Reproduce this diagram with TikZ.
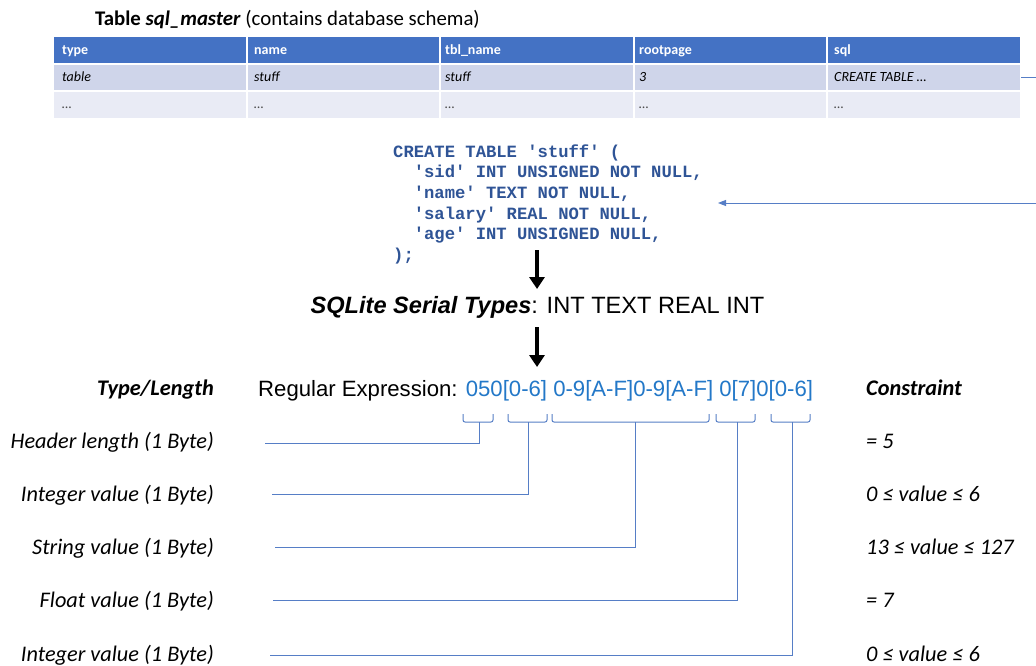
\documentclass[tikz,border=0pt]{standalone}
\usepackage{fontspec}
\setmainfont{Carlito}
\setmonofont{Liberation Mono}
\newfontfamily\helv{Liberation Sans}
\usetikzlibrary{arrows.meta}

\definecolor{hdrblue}{RGB}{68,114,196}
\definecolor{rowa}{RGB}{207,213,234}
\definecolor{rowb}{RGB}{233,235,245}
\definecolor{codeblue}{RGB}{47,84,150}
\definecolor{rxblue}{RGB}{35,120,200}
\definecolor{linkblue}{RGB}{86,126,198}

\begin{document}
\begin{tikzpicture}[x=1pt,y=-1pt,
  cellhd/.style={anchor=base west, inner sep=0pt, text=white, font=\fontsize{14}{16}\selectfont\bfseries},
  cellrw/.style={anchor=base west, inner sep=0pt, font=\fontsize{14}{16}\selectfont\itshape},
  link/.style={draw=linkblue, line width=1pt},
  flow/.style={line width=3.2pt, -{Triangle[length=12pt,width=15pt]}},
  lab/.style={anchor=base east, inner sep=0pt, font=\fontsize{22.3}{26}\selectfont\itshape},
  labhd/.style={anchor=base east, inner sep=0pt, font=\fontsize{22.3}{26}\selectfont\bfseries\itshape},
  cons/.style={anchor=base west, inner sep=0pt, font=\fontsize{22.3}{26}\selectfont\itshape},
  conshd/.style={anchor=base west, inner sep=0pt, font=\fontsize{22.3}{26}\selectfont\bfseries\itshape},
  codeline/.style={anchor=base west, inner sep=0pt, text=codeblue, font=\fontsize{17.2}{20}\selectfont\ttfamily\bfseries},
  brk/.style={link, rounded corners=2pt},
]
\useasboundingbox[fill=white] (0,0) rectangle (1036,666);

% ---- title of the table
\node[anchor=base west, inner sep=0pt, font=\fontsize{20.8}{24}\selectfont] (title) at (95,26)
  {\textbf{Table \textit{sql\_master}} (contains database schema)};

% ---- table body (five equal columns)
\foreach \c in {0,...,4} {
  \pgfmathsetmacro\xa{54+193.2*\c}
  \pgfmathsetmacro\xb{\xa+193.2}
  \fill[hdrblue] (\xa,37) rectangle (\xb,64);
  \fill[rowa] (\xa,64) rectangle (\xb,91);
  \fill[rowb] (\xa,91) rectangle (\xb,118);
}
\foreach \c in {1,...,4} {
  \draw[white, line width=2pt] ({54+193.2*\c},37) -- ({54+193.2*\c},118);
}
\draw[white, line width=2pt] (54,64) -- (1020,64) (54,91) -- (1020,91);

\node[cellhd] (h1) at (62,55) {type};
\node[cellhd] (h2) at (254,55) {name};
\node[cellhd] (h3) at (445,55) {tbl\_name};
\node[cellhd] (h4) at (639,55) {rootpage};
\node[cellhd] (h5) at (834,55) {sql};

\node[cellrw] (a1) at (62,82) {table};
\node[cellrw] (a2) at (254,82) {stuff};
\node[cellrw] (a3) at (445,82) {stuff};
\node[cellrw] (a4) at (639,82) {3};
\node[cellrw] (a5) at (834,82) {CREATE TABLE \ldots};

\node[cellrw, text=black!70] (b1) at (62,109) {\ldots};
\node[cellrw, text=black!70] (b2) at (254,109) {\ldots};
\node[cellrw, text=black!70] (b3) at (445,109) {\ldots};
\node[cellrw, text=black!70] (b4) at (639,109) {\ldots};
\node[cellrw, text=black!70] (b5) at (834,109) {\ldots};

% ---- schema statement
\node[codeline] (code1) at (393,157.2) {CREATE TABLE 'stuff' (};
\node[codeline] (code2) at (393,177.8) {\hphantom{xx}'sid' INT UNSIGNED NOT NULL,};
\node[codeline] (code3) at (393,198.4) {\hphantom{xx}'name' TEXT NOT NULL,};
\node[codeline] (code4) at (393,219.0) {\hphantom{xx}'salary' REAL NOT NULL,};
\node[codeline] (code5) at (393,239.6) {\hphantom{xx}'age' INT UNSIGNED NULL,};
\node[codeline] (code6) at (393,260.2) {);};

% sql cell feeds the statement
\coordinate (tblout) at (1021,78);
\coordinate (bend) at (1036.5,78);
\coordinate (codein) at (718,203);
\draw[link, -{Triangle[length=8pt,width=6pt]}] (tblout) -- (bend) |- (codein);

% ---- serial types
\node[anchor=base, inner sep=0pt, font=\helv\fontsize{23.6}{28}\selectfont] (serial) at (537.5,313)
  {\textbf{\textit{SQLite Serial Types}}: INT TEXT REAL INT};

\coordinate (ar1a) at (537,250);
\coordinate (ar1b) at (537,289);
\draw[flow] (ar1a) -- (ar1b);
\coordinate (ar2a) at (537,327);
\coordinate (ar2b) at (537,367);
\draw[flow] (ar2a) -- (ar2b);

% ---- regular expression row
\node[anchor=base west, inner sep=0pt, font=\helv\fontsize{22.15}{26}\selectfont] (regex) at (258,396)
  {Regular Expression: \textcolor{rxblue}{050[0-6] 0-9[A-F]0-9[A-F] 0[7]0[0-6]}};
\node[labhd] (tl) at (214,395) {Type/Length};
\node[conshd] (ct) at (866,395) {Constraint};

% brackets under the expression parts
\draw[brk] (463,414) |- (493,422) -- (493,414);
\draw[brk] (508,414) |- (547,422) -- (547,414);
\draw[brk] (552,414) |- (709,422) -- (709,414);
\draw[brk] (716,414) |- (755,422) -- (755,414);
\draw[brk] (771,414) |- (810,422) -- (810,414);
\coordinate (s1) at (479,422);
\coordinate (s2) at (528,422);
\coordinate (s3) at (635,422);
\coordinate (s4) at (737,422);
\coordinate (s5) at (792,422);

% ---- field labels and constraints
\node[lab] (l1) at (214,448) {Header length (1 Byte)};
\node[lab] (l2) at (214,501) {Integer value (1 Byte)};
\node[lab] (l3) at (214,554) {String value (1 Byte)};
\node[lab] (l4) at (214,607) {Float value (1 Byte)};
\node[lab] (l5) at (214,661) {Integer value (1 Byte)};

\node[cons] (c1) at (866,448) {= 5};
\node[cons] (c2) at (866,501) {0 ≤ value ≤ 6};
\node[cons] (c3) at (866,554) {13 ≤ value ≤ 127};
\node[cons] (c4) at (866,607) {= 7};
\node[cons] (c5) at (866,661) {0 ≤ value ≤ 6};

\coordinate (e1) at (265,443);
\coordinate (e2) at (272,494);
\coordinate (e3) at (275,547);
\coordinate (e4) at (273,600);
\coordinate (e5) at (270,655);
\draw[link] (s1) |- (e1);
\draw[link] (s2) |- (e2);
\draw[link] (s3) |- (e3);
\draw[link] (s4) |- (e4);
\draw[link] (s5) |- (e5);
\end{tikzpicture}
\end{document}
